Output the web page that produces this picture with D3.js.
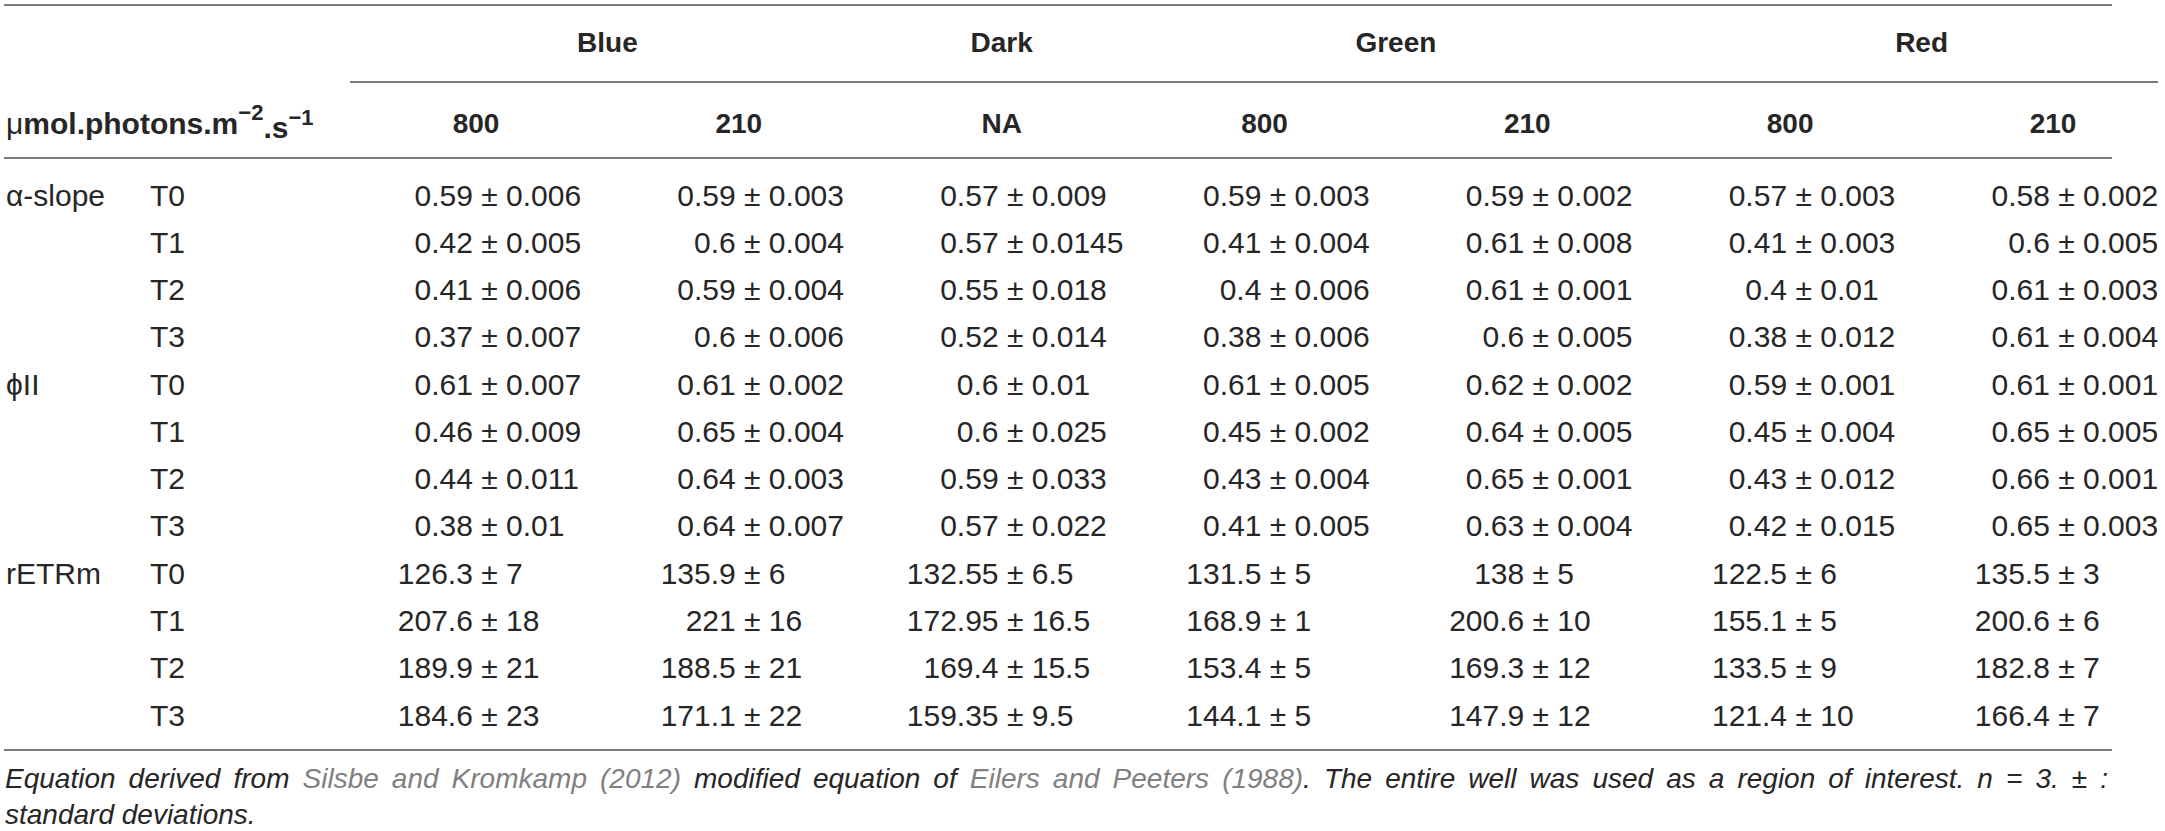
<!DOCTYPE html>
<html>
<head>
<meta charset="utf-8">
<script src="https://cdnjs.cloudflare.com/ajax/libs/d3/7.8.5/d3.min.js"></script>
<style>
    html, body { margin: 0; padding: 0; background: #ffffff; }
    svg { display: block; }
    text { font-family: "Liberation Sans", Arial, Helvetica, sans-serif; }
</style>
</head>
<body>
<div id="chart"></div>
<script>
// column headers
var colourGroups = ["Blue", "Dark", "Green", "Red"];
var columnGroup = ["Blue", "Blue", "Dark", "Green", "Green", "Red", "Red"];
var intensities = ["800", "210", "NA", "800", "210", "800", "210"];
var unitLabel = ["\u03bc", "mol.photons.m", "\u22122", ".s", "\u22121"];

// row headers
var parameters = ["\u03b1-slope", "\u03d5II", "rETRm"];
var timePoints = ["T0", "T1", "T2", "T3"];

// means, one row per time point, one entry per column
var alphaMeans = [
    ["0.59", "0.59", "0.57", "0.59", "0.59", "0.57", "0.58"],
    ["0.42", "0.6", "0.57", "0.41", "0.61", "0.41", "0.6"],
    ["0.41", "0.59", "0.55", "0.4", "0.61", "0.4", "0.61"],
    ["0.37", "0.6", "0.52", "0.38", "0.6", "0.38", "0.61"]
];
var alphaSd = [
    ["0.006", "0.003", "0.009", "0.003", "0.002", "0.003", "0.002"],
    ["0.005", "0.004", "0.0145", "0.004", "0.008", "0.003", "0.005"],
    ["0.006", "0.004", "0.018", "0.006", "0.001", "0.01", "0.003"],
    ["0.007", "0.006", "0.014", "0.006", "0.005", "0.012", "0.004"]
];
var phiMeans = [
    ["0.61", "0.61", "0.6", "0.61", "0.62", "0.59", "0.61"],
    ["0.46", "0.65", "0.6", "0.45", "0.64", "0.45", "0.65"],
    ["0.44", "0.64", "0.59", "0.43", "0.65", "0.43", "0.66"],
    ["0.38", "0.64", "0.57", "0.41", "0.63", "0.42", "0.65"]
];
var phiSd = [
    ["0.007", "0.002", "0.01", "0.005", "0.002", "0.001", "0.001"],
    ["0.009", "0.004", "0.025", "0.002", "0.005", "0.004", "0.005"],
    ["0.011", "0.003", "0.033", "0.004", "0.001", "0.012", "0.001"],
    ["0.01", "0.007", "0.022", "0.005", "0.004", "0.015", "0.003"]
];
var retrMeans = [
    ["126.3", "135.9", "132.55", "131.5", "138", "122.5", "135.5"],
    ["207.6", "221", "172.95", "168.9", "200.6", "155.1", "200.6"],
    ["189.9", "188.5", "169.4", "153.4", "169.3", "133.5", "182.8"],
    ["184.6", "171.1", "159.35", "144.1", "147.9", "121.4", "166.4"]
];
var retrSd = [
    ["7", "6", "6.5", "5", "5", "6", "3"],
    ["18", "16", "16.5", "1", "10", "5", "6"],
    ["21", "21", "15.5", "5", "12", "9", "7"],
    ["23", "22", "9.5", "5", "12", "10", "7"]
];

// footnote, line 1 is justified; [text, isCitation]
var captionLine1 = [
    [["Equation", 0]], [["derived", 0]], [["from", 0]],
    [["Silsbe", 1]], [["and", 1]], [["Kromkamp", 1]], [["(2012)", 1]],
    [["modified", 0]], [["equation", 0]], [["of", 0]],
    [["Eilers", 1]], [["and", 1]], [["Peeters", 1]], [["(1988)", 1], [".", 0]],
    [["The", 0]], [["entire", 0]], [["well", 0]], [["was", 0]], [["used", 0]],
    [["as", 0]], [["a", 0]], [["region", 0]], [["of", 0]], [["interest.", 0]],
    [["n", 0]], [["=", 0]], [["3.", 0]], [["\u00b1", 0]], [[":", 0]]
];
var captionLine2 = "standard deviations.";

var width = 2165;
var height = 831;
var ink = "#262626";
var rule = "#7a7a7a";
var citeColour = "#808080";

var blocks = [
    {label: parameters[0], means: alphaMeans, sd: alphaSd},
    {label: parameters[1], means: phiMeans, sd: phiSd},
    {label: parameters[2], means: retrMeans, sd: retrSd}
];

var rows = [];
blocks.forEach(function(b) {
    timePoints.forEach(function(t, i) {
        rows.push({label: i === 0 ? b.label : "", time: t, means: b.means[i], sd: b.sd[i]});
    });
});

var svg = d3.select("#chart").append("svg")
    .attr("width", width)
    .attr("height", height);

// x gives the position of the +/- sign in each column, y the middle of each row
var xScale = d3.scalePoint().domain(d3.range(intensities.length)).range([490, 2067]);
var yScale = d3.scalePoint().domain(d3.range(rows.length)).range([195, 715]);
var headOffset = -14;

var hline = function(x1, x2, y) {
    svg.append("line")
        .attr("x1", x1).attr("x2", x2)
        .attr("y1", y).attr("y2", y)
        .attr("stroke", rule)
        .attr("stroke-width", 2);
};

hline(4, 2112, 5);
hline(xScale(0) - 140, 2158, 82);
hline(4, 2112, 158);
hline(4, 2112, 750);

// group headers
var groupCentre = function(g) {
    var cols = d3.range(intensities.length).filter(function(i) { return columnGroup[i] === g; });
    return d3.mean(cols, function(i) { return xScale(i) + headOffset; });
};

svg.append("g").selectAll("text")
    .data(colourGroups)
    .enter().append("text")
    .attr("x", function(d) { return groupCentre(d); })
    .attr("y", 42)
    .attr("dy", "0.35em")
    .attr("text-anchor", "middle")
    .attr("font-size", 28)
    .attr("font-weight", "bold")
    .attr("fill", ink)
    .text(function(d) { return d; });

// intensity headers
svg.append("g").selectAll("text")
    .data(intensities)
    .enter().append("text")
    .attr("x", function(d, i) { return xScale(i) + headOffset; })
    .attr("y", 123)
    .attr("dy", "0.35em")
    .attr("text-anchor", "middle")
    .attr("font-size", 28)
    .attr("font-weight", "bold")
    .attr("fill", ink)
    .text(function(d) { return d; });

var unit = svg.append("text")
    .attr("x", 6)
    .attr("y", 123)
    .attr("dy", "0.35em")
    .attr("font-size", 30)
    .attr("font-weight", "bold")
    .attr("fill", ink);
unit.append("tspan").attr("font-weight", "normal").text(unitLabel[0]);
unit.append("tspan").text(unitLabel[1]);
unit.append("tspan").attr("font-size", 22).attr("dy", "-0.6em").text(unitLabel[2]);
unit.append("tspan").attr("dy", "0.6em").text(unitLabel[3]);
unit.append("tspan").attr("font-size", 22).attr("dy", "-0.6em").text(unitLabel[4]);

// body
var body = svg.append("g").attr("fill", ink).attr("font-size", 30);

var row = body.selectAll("g.row")
    .data(rows)
    .enter().append("g")
    .attr("class", "row")
    .attr("transform", function(d, i) { return "translate(0," + yScale(i) + ")"; });

row.append("text")
    .attr("x", 6)
    .attr("dy", "0.35em")
    .text(function(d) { return d.label; });

row.append("text")
    .attr("x", 150)
    .attr("dy", "0.35em")
    .text(function(d) { return d.time; });

var pmHalf = 0.584 * 30 / 2;
var spaceW = 0.278 * 30;

row.each(function(r) {
    var g = d3.select(this);
    var cells = r.means.map(function(m, i) { return {mean: m, sd: r.sd[i], col: i}; });

    g.selectAll("text.mean")
        .data(cells)
        .enter().append("text")
        .attr("class", "mean")
        .attr("x", function(d) { return xScale(d.col) - pmHalf - spaceW; })
        .attr("dy", "0.35em")
        .attr("text-anchor", "end")
        .text(function(d) { return d.mean; });

    g.selectAll("text.sd")
        .data(cells)
        .enter().append("text")
        .attr("class", "sd")
        .attr("x", function(d) { return xScale(d.col) - pmHalf; })
        .attr("dy", "0.35em")
        .text(function(d) { return "\u00b1 " + d.sd; });
});

// footnote
var caption = svg.append("g")
    .attr("font-size", 28)
    .attr("font-style", "italic")
    .attr("fill", ink);

var words = caption.selectAll("text.word")
    .data(captionLine1)
    .enter().append("text")
    .attr("class", "word")
    .attr("y", 788);

words.each(function(parts) {
    var t = d3.select(this);
    parts.forEach(function(p) {
        t.append("tspan")
            .attr("fill", p[1] ? citeColour : ink)
            .text(p[0]);
    });
});

var lineStart = 5;
var lineEnd = 2108;
var widths = [];
words.each(function() { widths.push(this.getComputedTextLength()); });
var gap = (lineEnd - lineStart - d3.sum(widths)) / (widths.length - 1);
if (gap < 0.2 * 28) {
    gap = 0.2 * 28;
}
var cursor = lineStart;
words.attr("x", function(d, i) {
    var xPos = cursor;
    cursor += widths[i] + gap;
    return xPos;
});

caption.append("text")
    .attr("x", lineStart)
    .attr("y", 824)
    .text(captionLine2);
</script>
</body>
</html>
